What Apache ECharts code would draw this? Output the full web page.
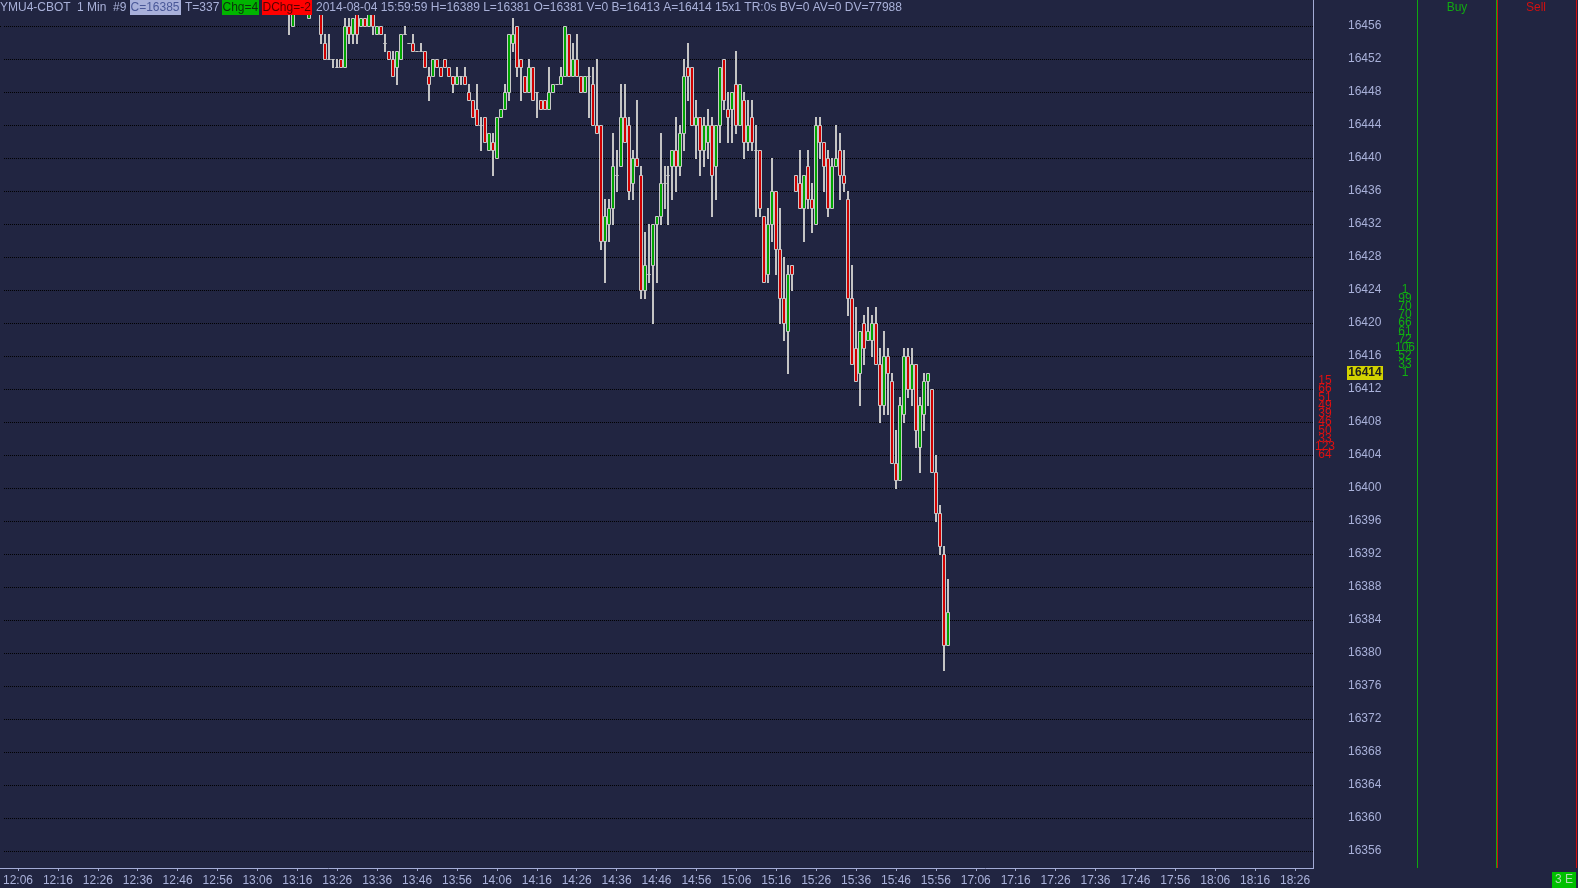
<!DOCTYPE html>
<html><head><meta charset="utf-8">
<script src="https://cdn.jsdelivr.net/npm/echarts@6/dist/echarts.min.js"></script>
<style>html,body{margin:0;padding:0;background:#212541;overflow:hidden}#c{width:1578px;height:888px}</style>
</head><body><div id="c"></div>
<script>
// ---- data ----
const sessions = [["12:03", "15:59"], ["17:00", "18:30"]];
const firstBar = "13:14";
const opens = [
16459,16456,16458,16459,16459,16457,16458,16459,16459,16454,
16452,16452,16451,16452,16451,16456,16455,16458,16456,16457,
16456,16458,16455,16456,16454,16453,16452,16451,16452,16455,
16454,16454,16453,16453,16453,16450,16450,16452,16451,16452,
16451,16450,16449,16450,16450,16448,16447,16446,16444,16445,
16441,16442,16440,16445,16446,16448,16454,16456,16452,16450,
16448,16451,16448,16447,16447,16446,16448,16449,16449,16450,
16455,16450,16452,16450,16448,16450,16449,16444,16444,16430,
16432,16434,16438,16439,16445,16444,16437,16440,16438,16424,
16426,16427,16432,16433,16437,16438,16439,16441,16439,16443,
16451,16451,16444,16445,16441,16442,16444,16439,16444,16452,
16446,16446,16449,16444,16447,16442,16445,16441,16441,16433,
16426,16432,16436,16429,16423,16419,16427,16438,16437,16434,
16439,16435,16432,16444,16442,16440,16434,16439,16441,16438,
16435,16423,16417,16414,16420,16418,16418,16420,16415,16410,
16416,16413,16403,16401,16409,16416,16412,16415,16405,16409,
16413,16412,16402,16397,16392,16381];
const closes = [
16458,16458,16459,16459,16458,16458,16459,16459,16455,16452,
16452,16452,16451,16451,16456,16455,16457,16455,16457,16456,
16458,16456,16456,16455,16454,16452,16450,16453,16455,16455,
16454,16453,16453,16453,16451,16449,16452,16451,16450,16451,
16450,16449,16450,16450,16449,16447,16445,16444,16444,16442,
16443,16441,16445,16446,16448,16455,16455,16451,16451,16448,
16451,16447,16448,16446,16446,16448,16449,16449,16450,16456,
16450,16452,16450,16448,16450,16450,16444,16443,16430,16433,
16434,16439,16438,16445,16442,16436,16440,16439,16424,16427,
16426,16432,16433,16437,16437,16438,16441,16439,16443,16450,
16450,16444,16445,16441,16444,16444,16438,16444,16451,16447,
16445,16448,16444,16449,16442,16444,16442,16441,16434,16425,
16432,16436,16429,16423,16420,16426,16426,16436,16434,16438,
16435,16434,16444,16442,16439,16434,16439,16440,16438,16437,
16423,16415,16413,16419,16417,16419,16420,16415,16410,16416,
16414,16403,16401,16410,16416,16412,16415,16407,16410,16413,
16414,16402,16397,16393,16381,16385];
const lows = [
16455,16456,16458,16458,16458,16457,16458,16458,16454,16452,
16452,16451,16451,16451,16451,16454,16454,16454,16456,16456,
16456,16455,16455,16455,16453,16452,16450,16449,16452,16455,
16454,16453,16453,16453,16451,16447,16450,16451,16450,16451,
16450,16448,16449,16449,16449,16447,16445,16444,16441,16442,
16441,16438,16440,16445,16446,16447,16453,16450,16447,16448,
16448,16447,16445,16446,16446,16446,16448,16449,16449,16450,
16450,16450,16450,16448,16448,16445,16444,16443,16429,16425,
16430,16432,16436,16439,16442,16435,16435,16439,16423,16423,
16425,16420,16425,16432,16434,16432,16435,16436,16438,16441,
16447,16444,16440,16438,16439,16440,16433,16435,16442,16446,
16442,16442,16443,16444,16440,16441,16441,16433,16433,16425,
16425,16430,16426,16420,16418,16414,16424,16436,16434,16430,
16434,16431,16432,16440,16436,16433,16434,16439,16435,16436,
16421,16415,16413,16410,16415,16418,16416,16415,16408,16409,
16409,16403,16400,16401,16408,16411,16410,16405,16402,16407,
16410,16402,16396,16392,16378,16381];
const highs = [
16459,16459,16460,16460,16460,16459,16460,16460,16460,16455,
16455,16452,16452,16452,16457,16457,16457,16458,16457,16457,
16458,16458,16456,16456,16455,16453,16453,16453,16455,16456,
16454,16455,16453,16454,16453,16451,16452,16452,16451,16452,
16451,16450,16451,16450,16451,16449,16447,16449,16445,16445,
16443,16443,16445,16446,16449,16455,16457,16456,16452,16450,
16452,16451,16448,16447,16447,16451,16449,16449,16451,16456,
16455,16454,16455,16450,16450,16451,16451,16452,16444,16435,
16435,16443,16441,16449,16449,16445,16441,16447,16439,16431,
16432,16432,16433,16443,16439,16439,16441,16445,16444,16452,
16454,16451,16447,16445,16445,16446,16445,16444,16451,16452,
16448,16448,16453,16449,16448,16447,16447,16444,16441,16433,
16434,16440,16436,16434,16428,16427,16427,16438,16441,16438,
16441,16437,16445,16445,16442,16441,16440,16444,16443,16441,
16436,16427,16422,16419,16421,16422,16421,16422,16417,16419,
16417,16414,16407,16411,16417,16417,16417,16415,16411,16414,
16414,16412,16404,16398,16393,16389];
const priceMin = 16356, priceMax = 16456, priceStep = 4;
const askPrice = 16414;
const sellPrices = [16413,16412,16411,16410,16409,16408,16407,16406,16405,16404];
const sellVols   = [15,66,51,49,39,46,50,33,123,64];
const buyPrices  = [16424,16423,16422,16421,16420,16419,16418,16417,16416,16415,16414];
const buyVols    = [1,99,70,70,66,61,72,106,52,33,1];
const headerParts = ["YMU4-CBOT", "1 Min", "#9", "C=16385", "T=337", "Chg=4", "DChg=-2",
  "2014-08-04 15:59:59 H=16389 L=16381 O=16381 V=0 B=16413 A=16414 15x1 TR:0s BV=0 AV=0 DV=77988"];

// ---- build ----
function toMin(s){const p=s.split(':').map(Number);return p[0]*60+p[1];}
function fmt(t){return String(Math.floor(t/60)).padStart(2,'0')+':'+String(t%60).padStart(2,'0');}
const categories=[];
sessions.forEach(function(s){for(let t=toMin(s[0]);t<=toMin(s[1]);t++)categories.push(fmt(t));});
const startIdx = categories.indexOf(firstBar);
const candleData = opens.map(function(o,i){return [startIdx+i,o,closes[i],lows[i],highs[i]];});

const BG='#212541', TXT='#a9b1d9', AXIS='#a3abd5';
const FONT='"Liberation Sans", Arial, sans-serif';
const GREEN='#00a400', RED='#d00000', WICK='#c4c4c4', EDGE='#c8c8c8';
const labelInterval=function(i,v){return v.charAt(4)==='6';};

const chart = echarts.init(document.getElementById('c'));
const option = {
  backgroundColor: BG,
  animation: false,
  grid: {left: 1, right: 265, top: 26, height: 825},
  xAxis: {
    type: 'category', data: categories, boundaryGap: true, offset: 17,
    axisLine: {show: false},
    axisTick: {show: true, alignWithLabel: true, interval: labelInterval, length: 3, lineStyle: {color: AXIS}},
    axisLabel: {interval: labelInterval, color: TXT, fontSize: 12, fontFamily: FONT, margin: 7},
    splitLine: {show: false}
  },
  yAxis: {
    type: 'value', position: 'right', min: priceMin, max: priceMax, interval: priceStep,
    axisLine: {show: false}, axisTick: {show: false},
    axisLabel: {color: TXT, fontSize: 12, fontFamily: FONT, margin: 35, align: 'left',
      formatter: function(v){return String(v);}},
    splitLine: {show: true, lineStyle: {color: '#000000', type: 'dotted', width: 1}}
  },
  series: [
    {
      type: 'custom', name: 'bars', clip: false, silent: true, z: 5,
      data: candleData, encode: {x: 0, y: [1,2,3,4]},
      renderItem: function(params, api){
        const x=api.value(0), o=api.value(1), c=api.value(2), l=api.value(3), h=api.value(4);
        const pO=api.coord([x,o]), pC=api.coord([x,c]), pL=api.coord([x,l]), pH=api.coord([x,h]);
        const cx=Math.round(pO[0]);
        const t=Math.round(Math.min(pO[1],pC[1])), b=Math.round(Math.max(pO[1],pC[1]));
        const fill = c>o ? GREEN : (c<o ? RED : EDGE);
        return {type:'group', children:[
          {type:'line', shape:{x1:cx, y1:Math.round(pH[1]), x2:cx, y2:Math.round(pL[1])+1}, style:{stroke:WICK, lineWidth:2}},
          {type:'rect', shape:{x:cx-1.5, y:t+0.5, width:3, height:b-t}, style:{fill:fill, stroke:EDGE, lineWidth:1}}
        ]};
      }
    },
    {
      type: 'custom', name: 'sell', clip: false, silent: true, z: 6,
      data: sellPrices.map(function(p,i){return [0,p,sellVols[i]];}), encode: {x:0, y:1},
      renderItem: function(params, api){
        const y=api.coord([0,api.value(1)])[1];
        return {type:'text', x:1325, y:y, style:{text:String(api.value(2)), fill:'#e01010', font:'12px "Liberation Sans Narrow", "Liberation Sans", Arial', align:'center', verticalAlign:'middle'}};
      }
    },
    {
      type: 'custom', name: 'buy', clip: false, silent: true, z: 6,
      data: buyPrices.map(function(p,i){return [0,p,buyVols[i]];}), encode: {x:0, y:1},
      renderItem: function(params, api){
        const y=api.coord([0,api.value(1)])[1];
        return {type:'text', x:1405, y:y, style:{text:String(api.value(2)), fill:'#10b010', font:'12px "Liberation Sans Narrow", "Liberation Sans", Arial', align:'center', verticalAlign:'middle'}};
      }
    },
    {
      type: 'custom', name: 'ask', clip: false, silent: true, z: 7,
      data: [[0, askPrice]], encode: {x:0, y:1},
      renderItem: function(params, api){
        const y=Math.round(api.coord([0,api.value(1)])[1]);
        return {type:'group', children:[
          {type:'rect', shape:{x:1347, y:y-7, width:36, height:14}, style:{fill:'#d2d200'}},
          {type:'text', x:1365, y:y, style:{text:String(api.value(1)), fill:'#1e1e1e', font:'bold 12px ' + FONT, align:'center', verticalAlign:'middle'}}
        ]};
      }
    }
  ],
  graphic: [
    {type:'rect', z:100, shape:{x:0,y:0,width:1313,height:15}, style:{fill:BG}},
    {type:'line', z:99, shape:{x1:0,y1:26.5,x2:2,y2:26.5}, style:{stroke:'#000', lineWidth:1, lineDash:[1,1]}},
    {type:'text', z:101, x:0, y:8, style:{text:headerParts[0], fill:TXT, font:'12px '+FONT, verticalAlign:'middle'}},
    {type:'text', z:101, x:77, y:8, style:{text:headerParts[1], fill:TXT, font:'12px '+FONT, verticalAlign:'middle'}},
    {type:'text', z:101, x:113, y:8, style:{text:headerParts[2], fill:TXT, font:'12px '+FONT, verticalAlign:'middle'}},
    {type:'rect', z:100, shape:{x:130,y:0,width:51,height:15}, style:{fill:'#a8b0da'}},
    {type:'text', z:101, x:130.5, y:8, style:{text:headerParts[3], fill:'#4a5898', font:'12px '+FONT, verticalAlign:'middle'}},
    {type:'text', z:101, x:185, y:8, style:{text:headerParts[4], fill:TXT, font:'12px '+FONT, verticalAlign:'middle'}},
    {type:'rect', z:100, shape:{x:222,y:0,width:37,height:15}, style:{fill:'#00b400'}},
    {type:'text', z:101, x:222.5, y:8, style:{text:headerParts[5], fill:'#0c300c', font:'12px '+FONT, verticalAlign:'middle'}},
    {type:'rect', z:100, shape:{x:262,y:0,width:50,height:15}, style:{fill:'#ff0000'}},
    {type:'text', z:101, x:262.5, y:8, style:{text:headerParts[6], fill:'#560000', font:'12px '+FONT, verticalAlign:'middle'}},
    {type:'text', z:101, x:316, y:8, style:{text:headerParts[7], fill:TXT, font:'12px '+FONT, verticalAlign:'middle'}},
    {type:'line', z:100, shape:{x1:1313.5,y1:0,x2:1313.5,y2:868}, style:{stroke:AXIS, lineWidth:1}},
    {type:'line', z:100, shape:{x1:0,y1:868.5,x2:1314,y2:868.5}, style:{stroke:AXIS, lineWidth:1}},
    {type:'line', z:100, shape:{x1:1417.5,y1:0,x2:1417.5,y2:868}, style:{stroke:'#10a810', lineWidth:1}},
    {type:'line', z:100, shape:{x1:1496.5,y1:0,x2:1496.5,y2:868}, style:{stroke:'#10a810', lineWidth:1}},
    {type:'line', z:100, shape:{x1:1497.5,y1:0,x2:1497.5,y2:868}, style:{stroke:'#d01010', lineWidth:1}},
    {type:'line', z:100, shape:{x1:1576.5,y1:0,x2:1576.5,y2:868}, style:{stroke:'#d01010', lineWidth:1}},
    {type:'text', z:101, x:1457, y:8, style:{text:'Buy', fill:'#12a812', font:'12px '+FONT, align:'center', verticalAlign:'middle'}},
    {type:'text', z:101, x:1536, y:8, style:{text:'Sell', fill:'#d01010', font:'12px '+FONT, align:'center', verticalAlign:'middle'}},
    {type:'rect', z:100, shape:{x:1552,y:872,width:24,height:16}, style:{fill:'#00c000'}},
    {type:'text', z:101, x:1564, y:880, style:{text:'3 E', fill:'#b0dcb0', font:'12px '+FONT, align:'center', verticalAlign:'middle'}}
  ]
};
chart.setOption(option);
</script></body></html>
